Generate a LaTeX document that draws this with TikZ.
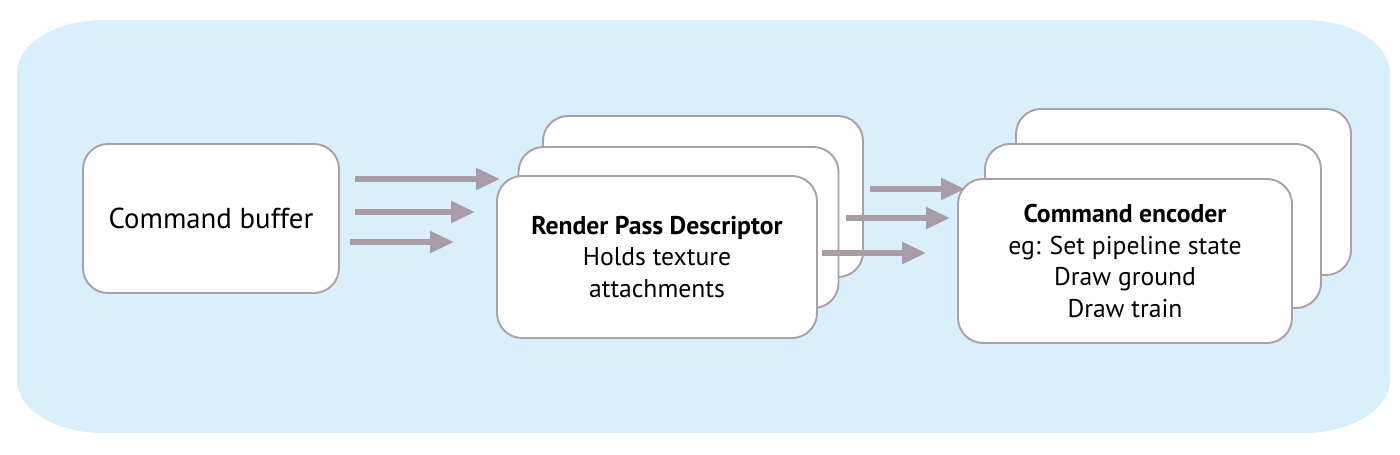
\documentclass[tikz,border=0pt]{standalone}
\usepackage{fontspec}
\setmainfont{PT Sans}
\usetikzlibrary{arrows.meta}
\definecolor{bgblue}{HTML}{D9EFFC}
\definecolor{edge}{HTML}{ABA0A9}
\definecolor{flowc}{HTML}{A99CA6}
\tikzset{
  card/.style={draw=edge,line width=1.1pt,fill=white,rounded corners=0.5cm,
    inner sep=0pt,align=center,font=\fontsize{14.6}{18.1}\selectfont},
  flow/.style={draw=flowc,line width=3pt,-{Triangle[length=0.48cm,width=0.42cm]}}
}

\begin{document}
\begin{tikzpicture}
          \useasboundingbox (0,0) rectangle (28,9.08);
          % light blue panel
          \fill[bgblue] (0.34,1.48) -- (0.34,7.62)
            arc[start angle=180,end angle=90,x radius=1.72,y radius=1.06] -- (26.08,8.68)
            arc[start angle=90,end angle=0,x radius=1.72,y radius=1.06] -- (27.8,1.48)
            arc[start angle=0,end angle=-90,x radius=1.72,y radius=1.06] -- (2.06,0.42)
            arc[start angle=270,end angle=180,x radius=1.72,y radius=1.06] -- cycle;
          % command buffer
          \node[card,minimum width=5.12cm,minimum height=2.98cm,font=\fontsize{16.4}{20}\selectfont] (buf) at (4.22,4.71) {Command buffer};
          % render pass descriptors
          \node[card,minimum width=6.4cm,minimum height=3.22cm] (rpd3) at (14.06,5.15) {};
          \node[card,minimum width=6.4cm,minimum height=3.22cm] (rpd2) at (13.57,4.53) {};
          \node[card,minimum width=6.4cm,minimum height=3.24cm] (rpd1) at (13.14,3.94) {\textbf{Render Pass Descriptor}\\Holds texture\\attachments};
          % command encoders
          \node[card,minimum width=6.7cm,minimum height=3.32cm] (enc3) at (23.67,5.24) {};
          \node[card,minimum width=6.72cm,minimum height=3.28cm] (enc2) at (23.06,4.56) {};
          \node[card,minimum width=6.68cm,minimum height=3.28cm] (enc1) at (22.5,3.86) {\textbf{Command encoder}\\eg: Set pipeline state\\Draw ground\\Draw train};
          % arrows
          \foreach \i/\xa/\xb/\y in {1/7.1/10.0/5.5, 2/7.1/9.5/4.84, 3/7.0/9.08/4.24,
                                     4/17.4/19.3/5.3, 5/16.92/19.0/4.72, 6/16.44/18.52/4.02} {
            \coordinate (s\i) at (\xa,\y);
            \coordinate (t\i) at (\xb,\y);
            \draw[flow] (s\i) -- (t\i);
          }
        \end{tikzpicture}
\end{document}
